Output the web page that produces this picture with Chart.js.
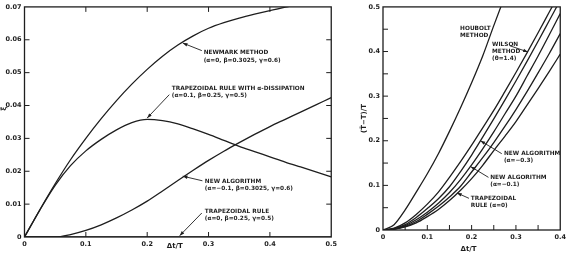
<!DOCTYPE html>
<html>
<head>
<meta charset="utf-8">
<script src="https://cdn.jsdelivr.net/npm/chart.js@4/dist/chart.umd.min.js"></script>
<style>
body { margin: 0; background: #fff; width: 569px; height: 254px; overflow: hidden; position: relative; }
canvas { position: absolute; top: 0; }
#left { left: 0; }
#right { left: 340px; }
</style>
</head>
<body>
<canvas id="left" width="340" height="254"></canvas>
<canvas id="right" width="229" height="254"></canvas>
<script>
// left panel: damping ratio vs dt/T
const dtL = [0, 0.025, 0.05, 0.075, 0.1, 0.125, 0.15, 0.175, 0.2, 0.225, 0.25, 0.275, 0.3, 0.325, 0.35, 0.375, 0.4, 0.425, 0.45, 0.475, 0.5];
const newmark = [0, 0.0083, 0.0162, 0.0235, 0.03, 0.036, 0.0415, 0.0465, 0.051, 0.055, 0.0584, 0.0612, 0.0635, 0.0652, 0.0666, 0.0678, 0.0689, 0.0699, 0.0709, 0.0718, 0.0727];
const trapDiss = [0, 0.0082, 0.0157, 0.0217, 0.0262, 0.0297, 0.0326, 0.0348, 0.0358, 0.0354, 0.0344, 0.0329, 0.0312, 0.0294, 0.0276, 0.026, 0.0244, 0.0228, 0.0213, 0.0198, 0.0183];
const newAlg = [0, 0, 0, 0.00075, 0.002, 0.0037, 0.0058, 0.0082, 0.0109, 0.014, 0.0172, 0.0203, 0.0233, 0.0261, 0.0287, 0.0312, 0.0336, 0.0358, 0.038, 0.0402, 0.0424];
const trapRule = [0, 0, 0, 0, 0, 0, 0, 0, 0, 0, 0, 0, 0, 0, 0, 0, 0, 0, 0, 0, 0];

// right panel: period elongation vs dt/T
const dtR = [0, 0.025, 0.05, 0.075, 0.1, 0.125, 0.15, 0.175, 0.2, 0.225, 0.25, 0.275, 0.3, 0.325, 0.35, 0.375, 0.4];
const houbolt = [0, 0.012, 0.045, 0.085, 0.126, 0.171, 0.221, 0.274, 0.33, 0.39, 0.458, 0.524, null, null, null, null, null];
const wilson = [0, 0.004, 0.016, 0.035, 0.058, 0.085, 0.118, 0.153, 0.19, 0.229, 0.268, 0.31, 0.353, 0.397, 0.442, 0.488, 0.534];
const newAlg03 = [0, 0.003, 0.012, 0.028, 0.048, 0.07, 0.097, 0.131, 0.168, 0.208, 0.249, 0.291, 0.334, 0.378, 0.423, 0.469, 0.515];
const newAlg01 = [0, 0.002, 0.01, 0.023, 0.04, 0.06, 0.084, 0.113, 0.146, 0.182, 0.22, 0.26, 0.3, 0.345, 0.39, 0.437, 0.485];
const curveD = [0, 0.002, 0.008, 0.019, 0.035, 0.053, 0.074, 0.098, 0.13, 0.162, 0.196, 0.232, 0.27, 0.31, 0.352, 0.395, 0.44];
const trapR = [0, 0.002, 0.007, 0.016, 0.03, 0.046, 0.066, 0.089, 0.115, 0.145, 0.178, 0.21, 0.243, 0.28, 0.317, 0.355, 0.394];

const ticksLx = [0.1, 0.2, 0.3, 0.4];
const ticksLy = [0.01, 0.02, 0.03, 0.04, 0.05, 0.06];
const ticksRx = [0.05, 0.1, 0.15, 0.2, 0.25, 0.3, 0.35];
const ticksRy = [0.05, 0.1, 0.15, 0.2, 0.25, 0.3, 0.35, 0.4, 0.45];

const notesL = [
    { at: [0.292, 0.056], text: ["NEWMARK METHOD", "(α=0, β=0.3025, γ=0.6)"], from: [0.289, 0.0567], to: [0.258, 0.059] },
    { at: [0.240, 0.0452], text: ["TRAPEZOIDAL RULE WITH α-DISSIPATION", "(α=0.1, β=0.25, γ=0.5)"], from: [0.236, 0.0433], to: [0.2, 0.0362] },
    { at: [0.294, 0.017], text: ["NEW ALGORITHM", "(α=−0.1, β=0.3025, γ=0.6)"], from: [0.29, 0.0171], to: [0.258, 0.0185] },
    { at: [0.294, 0.0079], text: ["TRAPEZOIDAL RULE", "(α=0, β=0.25, γ=0.5)"], from: [0.289, 0.0073], to: [0.253, 0.0004] },
];
const notesR = [
    { at: [0.174, 0.451], text: ["HOUBOLT", "METHOD"] },
    { at: [0.246, 0.416], text: ["WILSON", "METHOD", "(θ=1.4)"], from: [0.286, 0.413], to: [0.327, 0.399] },
    { at: [0.273, 0.171], text: ["NEW ALGORITHM", "(α=−0.3)"], from: [0.268, 0.171], to: [0.22, 0.2] },
    { at: [0.242, 0.118], text: ["NEW ALGORITHM", "(α=−0.1)"], from: [0.238, 0.118], to: [0.198, 0.142] },
    { at: [0.198, 0.071], text: ["TRAPEZOIDAL", "RULE (α=0)"], from: [0.194, 0.071], to: [0.167, 0.083] },
];

const INK = "#1e1e1e";
const FONT = '"DejaVu Sans", sans-serif';

function pts(xs, ys) {
    return xs.map((x, i) => ({ x: x, y: ys[i] }));
}
function line(xs, ys) {
    return {
        data: pts(xs, ys),
        borderColor: INK,
        borderWidth: 1.3,
        pointRadius: 0,
        fill: false,
        cubicInterpolationMode: "monotone",
        spanGaps: false,
    };
}

// frame, inward tick marks, axis titles and the labelled arrows
const decor = {
    id: "decor",
    afterDatasetsDraw(chart, args, o) {
        const { ctx, chartArea: a, scales: { x, y } } = chart;
        ctx.save();
        ctx.strokeStyle = INK;
        ctx.lineWidth = 1.3;
        ctx.strokeRect(a.left, a.top, a.width, a.height);
        ctx.lineWidth = 1;
        ctx.beginPath();
        o.xTicks.forEach(v => {
            const p = x.getPixelForValue(v);
            ctx.moveTo(p, a.bottom);
            ctx.lineTo(p, a.bottom - 5);
            if (o.frameTicks) {
                ctx.moveTo(p, a.top);
                ctx.lineTo(p, a.top + 5);
            }
        });
        o.yTicks.forEach(v => {
            const p = y.getPixelForValue(v);
            ctx.moveTo(a.left, p);
            ctx.lineTo(a.left + 5, p);
            if (o.frameTicks) {
                ctx.moveTo(a.right, p);
                ctx.lineTo(a.right - 5, p);
            }
        });
        ctx.stroke();

        ctx.fillStyle = INK;
        ctx.font = "bold 7px " + FONT;
        ctx.textAlign = "center";
        ctx.textBaseline = "middle";
        ctx.fillText(o.xTitle, x.getPixelForValue(o.xTitleAt), a.bottom + o.xTitleDy);
        ctx.save();
        ctx.translate(a.left + o.yTitleDx, y.getPixelForValue(o.yTitleAt));
        ctx.rotate(-Math.PI / 2);
        ctx.font = "bold 7px " + FONT;
        ctx.fillText(o.yTitle, 0, 0);
        ctx.restore();

        ctx.font = "bold 5.8px " + FONT;
        ctx.textAlign = "left";
        o.notes.forEach(n => {
            const tx = x.getPixelForValue(n.at[0]);
            const ty = y.getPixelForValue(n.at[1]);
            n.text.forEach((t, i) => ctx.fillText(t, tx, ty + i * o.lineGap));
            if (n.from) {
                const x1 = x.getPixelForValue(n.from[0]), y1 = y.getPixelForValue(n.from[1]);
                const x2 = x.getPixelForValue(n.to[0]), y2 = y.getPixelForValue(n.to[1]);
                ctx.lineWidth = 0.9;
                ctx.beginPath();
                ctx.moveTo(x1, y1);
                ctx.lineTo(x2, y2);
                ctx.stroke();
                const ang = Math.atan2(y2 - y1, x2 - x1);
                ctx.beginPath();
                ctx.moveTo(x2, y2);
                ctx.lineTo(x2 - 5 * Math.cos(ang - 0.35), y2 - 5 * Math.sin(ang - 0.35));
                ctx.lineTo(x2 - 5 * Math.cos(ang + 0.35), y2 - 5 * Math.sin(ang + 0.35));
                ctx.closePath();
                ctx.fill();
            }
        });
        ctx.restore();
    },
};

function axis(min, max, step, fmt, extra) {
    return Object.assign({
        type: "linear",
        min: min,
        max: max,
        grid: { display: false, drawTicks: false },
        border: { display: false },
        ticks: {
            stepSize: step,
            color: INK,
            font: { family: FONT, size: 6.5, weight: "bold" },
            padding: 3,
            callback: v => (v === 0 ? "0" : v.toFixed(fmt)),
        },
    }, extra);
}

const ctxL = document.getElementById("left").getContext("2d");
const ctxR = document.getElementById("right").getContext("2d");

const chartL = new Chart(ctxL, {
    type: "line",
    data: {
        datasets: [
            line(dtL, newmark),
            line(dtL, trapDiss),
            line(dtL, newAlg),
            line(dtL, trapRule),
        ],
    },
    options: {
        responsive: false,
        animation: false,
        layout: { padding: { left: 0, right: 8, top: 6, bottom: 0 } },
        scales: {
            x: axis(0, 0.5, 0.1, 1, { afterFit: s => { s.height = 17; } }),
            y: axis(0, 0.07, 0.01, 2, { afterFit: s => { s.width = 24.5; } }),
        },
        plugins: {
            legend: { display: false },
            tooltip: { enabled: false },
            decor: {
                xTicks: ticksLx, yTicks: ticksLy, frameTicks: true,
                xTitle: "Δt/T", xTitleAt: 0.245, xTitleDy: 9,
                yTitle: "ξ̄", yTitleAt: 0.039, yTitleDx: -20.5,
                notes: notesL, lineGap: 7.5,
            },
        },
    },
    plugins: [decor],
});

const chartR = new Chart(ctxR, {
    type: "line",
    data: {
        datasets: [
            line(dtR, houbolt),
            line(dtR, wilson),
            line(dtR, newAlg03),
            line(dtR, newAlg01),
            line(dtR, curveD),
            line(dtR, trapR),
        ],
    },
    options: {
        responsive: false,
        animation: false,
        layout: { padding: { left: 0, right: 4, top: 5, bottom: 0 } },
        scales: {
            x: axis(0, 0.4, 0.1, 1, { afterFit: s => { s.height = 24; } }),
            y: axis(0, 0.5, 0.1, 1, { afterFit: s => { s.width = 43; } }),
        },
        plugins: {
            legend: { display: false },
            tooltip: { enabled: false },
            decor: {
                xTicks: ticksRx, yTicks: ticksRy, frameTicks: false,
                xTitle: "Δt/T", xTitleAt: 0.193, xTitleDy: 19,
                yTitle: "(T̄−T)/T", yTitleAt: 0.25, yTitleDx: -19,
                notes: notesR, lineGap: 7,
            },
        },
    },
    plugins: [decor],
});
</script>
</body>
</html>
